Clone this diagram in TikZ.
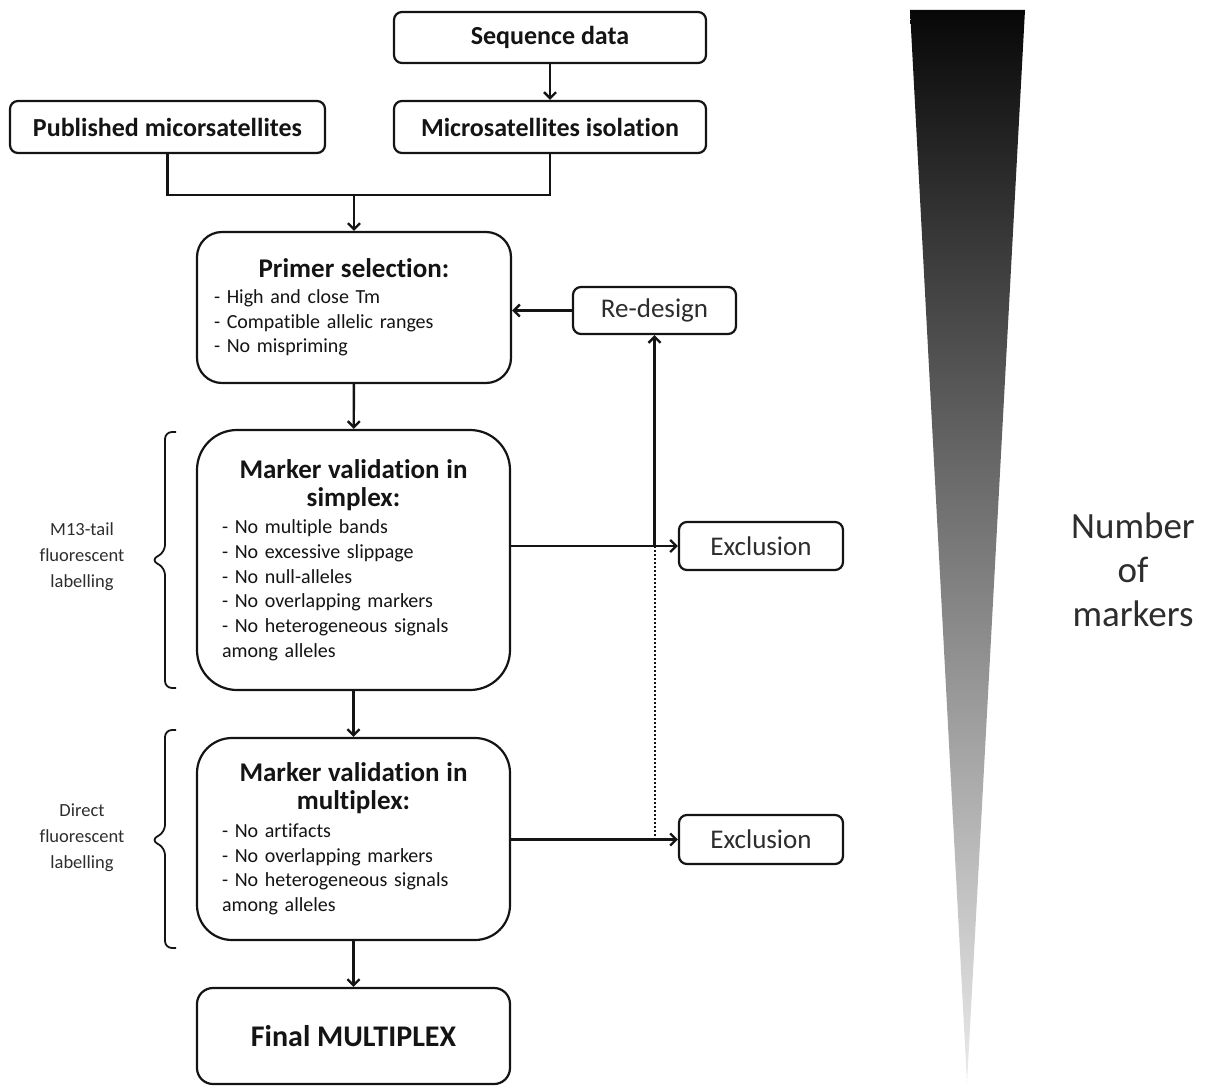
\documentclass[tikz,border=0pt]{standalone}
\usepackage{fontspec}
\setmainfont{Carlito}[Ligatures=NoCommon]
\usetikzlibrary{arrows.meta,positioning,calc}
\definecolor{ink}{RGB}{20,20,20}
\definecolor{soft}{RGB}{45,45,45}
\newcommand{\stephead}{\fontsize{27}{28}\selectfont\bfseries}
\tikzset{
  every picture/.style={x=1pt, y=-1pt, color=ink, line width=2pt},
  box/.style={draw=ink, line width=2.2pt, rounded corners=8pt, fill=white, inner sep=0pt, align=center, font=\fontsize{26}{30}\selectfont\bfseries},
  plain/.style={box, font=\fontsize{27}{30}\selectfont, text=soft},
  stage/.style={box, align=left, font=\fontsize{20}{24.7}\selectfont, minimum width=313pt},
  flow/.style={-{Straight Barb[length=6pt,width=12pt]}, line width=2.4pt},
  link/.style={line width=2.4pt},
  back/.style={line width=2pt, dotted},
  grp/.style={line width=1.8pt, rounded corners=7pt},
  lbl/.style={font=\fontsize{18.5}{26}\selectfont, text=soft, align=center},
}
\begin{document}
\begin{tikzpicture}
  \useasboundingbox (0,0) rectangle (1205,1086);
  % Sources, then primers, then the two validation rounds; failed markers go out or back to re-design.
  \node[box, minimum width=312pt, minimum height=51pt] (seq) at (550,37.5) {Sequence data};
  \node[box, minimum width=312pt, minimum height=52pt] (iso) at (550,127) {Microsatellites isolation};
  \node[box, minimum width=315pt, minimum height=52pt] (pub) at (167.5,127) {Published micorsatellites};
  \node[stage, rounded corners=25pt, text width=280pt, minimum width=314pt, minimum height=151pt] (primer) at (354,307.5)
    {{\centering\stephead Primer selection:\par}\vspace{1pt}- High and close Tm\\- Compatible allelic ranges\\- No mispriming};
  \node[plain, minimum width=163pt, minimum height=47pt] (redesign) at (654.5,310.5) {Re-design};
  \node[stage, rounded corners=40pt, text width=263pt, minimum height=260pt] (simplex) at (353.5,560)
    {{\centering\stephead Marker validation in\\ simplex:\par}\vspace{3pt}- No multiple bands\\- No excessive slippage\\- No null-alleles\\- No overlapping markers\\- No heterogeneous signals\\among alleles};
  \node[plain, minimum width=164pt, minimum height=48pt] (ex1) at (761,546) {Exclusion};
  \node[stage, rounded corners=35pt, text width=263pt, minimum height=202pt] (multiplex) at (353.5,839)
    {{\centering\stephead Marker validation in\\ multiplex:\par}\vspace{3pt}- No artifacts\\- No overlapping markers\\- No heterogeneous signals\\among alleles};
  \node[plain, minimum width=164pt, minimum height=49pt] (ex2) at (761,839.5) {Exclusion};
  \node[box, rounded corners=16pt, minimum width=313pt, minimum height=96pt, font=\fontsize{30}{34}\selectfont\bfseries] (final) at (353.5,1036) {Final MULTIPLEX};

  \coordinate (join) at (354,195);
  \coordinate (split) at (redesign.south |- ex1.west);
  \draw[flow] (seq) -- (iso);
  \draw[link] (pub.south) |- (join) -| (iso.south);
  \draw[flow] (join) -- (primer.north);
  \draw[flow] (redesign) -- (redesign -| primer.east);
  \draw[flow] (primer) -- (simplex);
  \draw[flow] (simplex.east |- ex1.west) -- (ex1.west);
  \draw[flow] (split) -- (redesign.south);
  \draw[back] (split) -- (split |- ex2.west);
  \draw[flow] (simplex) -- (multiplex);
  \draw[flow] (multiplex.east |- ex2.west) -- (ex2.west);
  \draw[flow] (multiplex) -- (final);

  % labelling methods
  \draw[grp] (176,432) -| (165,552) -- (151,560) -- (165,568) |- (176,688);
  \node[lbl] (m13) at (82,557) {M13-tail\\fluorescent\\labelling};
  \draw[grp] (176,730) -| (165,832) -- (151,840) -- (165,848) |- (176,948);
  \node[lbl] (direct) at (82,838) {Direct\\fluorescent\\labelling};

  % shrinking marker count
  \shade[top color=black!97, bottom color=black!8] (910,10) -- (1025,10) -- (967,1083) -- cycle;
  \node[font=\fontsize{37}{44}\selectfont, text=soft, align=center] (count) at (1133,570) {Number\\of\\markers};
\end{tikzpicture}
\end{document}
